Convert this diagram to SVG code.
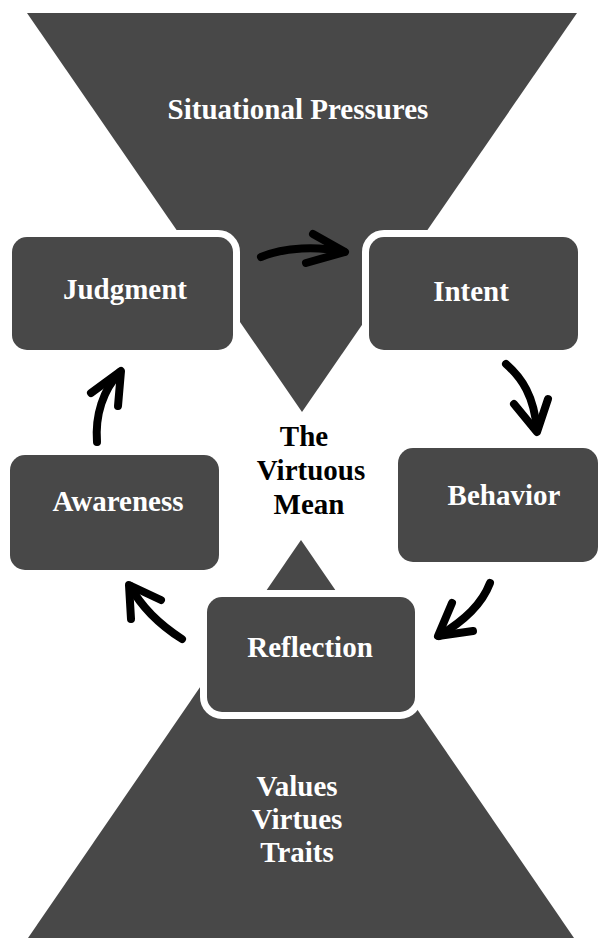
<svg xmlns="http://www.w3.org/2000/svg" width="599" height="938" viewBox="0 0 599 938">
<style>
.shape{fill:#484848}
.box{fill:#484848;stroke:#ffffff;stroke-width:14;paint-order:stroke}
.lbl{font-family:"Liberation Serif","Times New Roman",serif;font-weight:bold;font-size:29px;fill:#ffffff;text-anchor:middle}
.dark{fill:#000000}
.arr{fill:none;stroke:#000000;stroke-width:8;stroke-linecap:round;stroke-linejoin:round}
</style>
<rect width="599" height="938" fill="#ffffff"/>
<g id="situational-pressures">
<polygon class="shape" points="27,13 577,13 302,412"/>
<text class="lbl" x="298" y="119">Situational Pressures</text>
</g>
<g id="values">
<polygon class="shape" points="301,540 574,938 28,938"/>
<text class="lbl" x="297" y="796">Values</text>
<text class="lbl" x="297" y="829">Virtues</text>
<text class="lbl" x="297" y="862">Traits</text>
</g>
<g id="judgment">
<rect class="box" x="12" y="237" width="221" height="113" rx="15"/>
<text class="lbl" x="125" y="299">Judgment</text>
</g>
<g id="intent">
<rect class="box" x="369" y="237" width="209" height="113" rx="15"/>
<text class="lbl" x="471" y="301">Intent</text>
</g>
<g id="awareness">
<rect class="box" x="10" y="455" width="209" height="115" rx="15"/>
<text class="lbl" x="118" y="511">Awareness</text>
</g>
<g id="behavior">
<rect class="box" x="398" y="448" width="200" height="114" rx="15"/>
<text class="lbl" x="504" y="505">Behavior</text>
</g>
<g id="reflection">
<rect class="box" x="207" y="597" width="208" height="115" rx="15"/>
<text class="lbl" x="310" y="657">Reflection</text>
</g>
<g id="virtuous-mean">
<text class="lbl dark" x="304" y="446">The</text>
<text class="lbl dark" x="311" y="480">Virtuous</text>
<text class="lbl dark" x="309" y="514">Mean</text>
</g>
<g id="connectors">
<path class="arr" d="M261,257 C285,247 318,246 344,252"/>
<path class="arr" d="M313,234 L345,252 L306,263"/>
<path class="arr" d="M506,364 C522,378 534,396 537,430"/>
<path class="arr" d="M514,404 L537,432 L548,399"/>
<path class="arr" d="M490,583 C482,604 465,620 439,636"/>
<path class="arr" d="M452,603 L438,636 L473,631"/>
<path class="arr" d="M182,639 C160,625 141,606 130,586"/>
<path class="arr" d="M131,619 L129,585 L161,600"/>
<path class="arr" d="M97,442 C95,415 103,390 120,372"/>
<path class="arr" d="M91,393 L121,371 L118,406"/>
</g>
</svg>
